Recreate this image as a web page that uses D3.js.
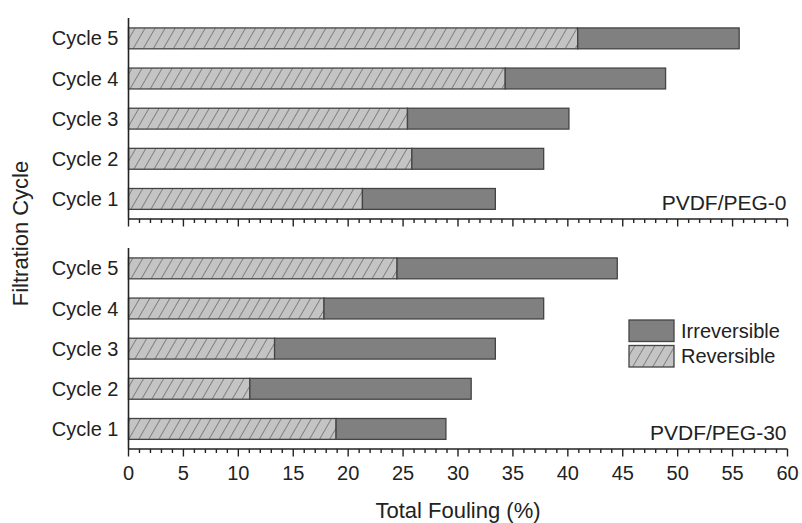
<!DOCTYPE html>
<html>
<head>
<meta charset="utf-8">
<script src="https://cdn.jsdelivr.net/npm/d3@7"></script>
<style>
  body { margin: 0; background: #fff; }
  text { font-family: "Liberation Sans", Arial, sans-serif; fill: #222; }
</style>
</head>
<body>
<div id="chart"></div>
<script>
// data
const cycles = ["Cycle 1", "Cycle 2", "Cycle 3", "Cycle 4", "Cycle 5"];
const panelNames = ["PVDF/PEG-0", "PVDF/PEG-30"];
const reversible0 = [21.3, 25.8, 25.4, 34.3, 40.9];
const irreversible0 = [12.1, 12.0, 14.7, 14.6, 14.7];
const reversible30 = [18.9, 11.05, 13.3, 17.8, 24.45];
const irreversible30 = [10.0, 20.15, 20.1, 20.0, 20.05];
const xTicks = [0, 5, 10, 15, 20, 25, 30, 35, 40, 45, 50, 55, 60];
const legendLabels = ["Irreversible", "Reversible"];

var svgWidth = 802, svgHeight = 523;
var left = 128.5, right = 787.5;
var panelTops = [18, 248];
var panelHeight = 201;

var svg = d3.select("#chart")
    .append("svg")
    .attr("width", svgWidth)
    .attr("height", svgHeight);

// hatch for the reversible part
var defs = svg.append("defs");
var pat = defs.append("pattern")
    .attr("id", "hatch")
    .attr("patternUnits", "userSpaceOnUse")
    .attr("width", 8.7)
    .attr("height", 10)
    .attr("patternTransform", "rotate(30)");
pat.append("rect").attr("width", 8.7).attr("height", 10).attr("fill", "#c4c4c4");
pat.append("line")
    .attr("x1", 0).attr("y1", 0).attr("x2", 0).attr("y2", 10)
    .attr("stroke", "#4a4a4a").attr("stroke-width", 1.1);

var x = d3.scaleLinear().domain([0, 60]).range([left, right]);

const panels = [
    { rev: reversible0, irr: irreversible0 },
    { rev: reversible30, irr: irreversible30 }
];

panels.forEach((p, k) => {
    var top = panelTops[k];
    var y = d3.scaleBand()
        .domain(cycles.slice().reverse())
        .range([top + 0.3, top + panelHeight])
        .paddingInner(0.48)
        .paddingOuter(0.24);

    var rows = cycles.map((c, i) => ({ c: c, rev: p.rev[i], irr: p.irr[i] }));
    var g = svg.append("g");

    g.selectAll(".rev")
        .data(rows)
        .join("rect")
        .attr("x", x(0))
        .attr("y", d => y(d.c))
        .attr("width", d => x(d.rev) - x(0))
        .attr("height", y.bandwidth())
        .attr("fill", "url(#hatch)")
        .attr("stroke", "#444")
        .attr("stroke-width", 1.3);

    g.selectAll(".irr")
        .data(rows)
        .join("rect")
        .attr("x", d => x(d.rev))
        .attr("y", d => y(d.c))
        .attr("width", d => x(d.rev + d.irr) - x(d.rev))
        .attr("height", y.bandwidth())
        .attr("fill", "#808080")
        .attr("stroke", "#444")
        .attr("stroke-width", 1.3);

    // category labels
    g.selectAll(".cat")
        .data(cycles)
        .join("text")
        .attr("x", left - 10)
        .attr("y", d => y(d) + y.bandwidth() / 2)
        .attr("dy", "0.35em")
        .attr("text-anchor", "end")
        .style("font-size", "20px")
        .text(d => d);

    // y axis line
    var bottom = top + panelHeight;
    g.append("line")
        .attr("x1", left).attr("x2", left)
        .attr("y1", top).attr("y2", bottom)
        .attr("stroke", "#222").attr("stroke-width", 1.6);

    // x axis with minor ticks
    var axis = g.append("g").attr("transform", `translate(0, ${bottom})`);
    axis.append("line")
        .attr("x1", left).attr("x2", right)
        .attr("stroke", "#222").attr("stroke-width", 1.6);
    axis.selectAll(".minor")
        .data(d3.range(0, 61))
        .join("line")
        .attr("x1", d => x(d)).attr("x2", d => x(d))
        .attr("y1", 0)
        .attr("y2", d => d % 5 === 0 ? 7.5 : 4)
        .attr("stroke", "#222").attr("stroke-width", 1.4);
    if (k === 1) {
        axis.selectAll(".tl")
            .data(xTicks)
            .join("text")
            .attr("x", d => x(d))
            .attr("y", 31)
            .attr("text-anchor", "middle")
            .style("font-size", "20px")
            .text(d => d);
    }

    g.append("text")
        .attr("x", right - 1)
        .attr("y", bottom - 9)
        .attr("text-anchor", "end")
        .style("font-size", "21px")
        .text(panelNames[k]);
});

// legend
var legend = svg.append("g").attr("transform", "translate(629, 320)");
legendLabels.forEach((lab, i) => {
    legend.append("rect")
        .attr("x", 0)
        .attr("y", i * 25.5)
        .attr("width", 45)
        .attr("height", 21.5)
        .attr("fill", i === 0 ? "#808080" : "url(#hatch)")
        .attr("stroke", "#444")
        .attr("stroke-width", 1.3);
    legend.append("text")
        .attr("x", 52)
        .attr("y", i * 25.5 + 10.75)
        .attr("dy", "0.35em")
        .style("font-size", "20px")
        .text(lab);
});

// axis titles
svg.append("text")
    .attr("x", (left + right) / 2)
    .attr("y", 518)
    .attr("text-anchor", "middle")
    .style("font-size", "22px")
    .text("Total Fouling (%)");

svg.append("text")
    .attr("transform", "translate(28, 233.5) rotate(-90)")
    .attr("text-anchor", "middle")
    .style("font-size", "22px")
    .text("Filtration Cycle");
</script>
</body>
</html>
